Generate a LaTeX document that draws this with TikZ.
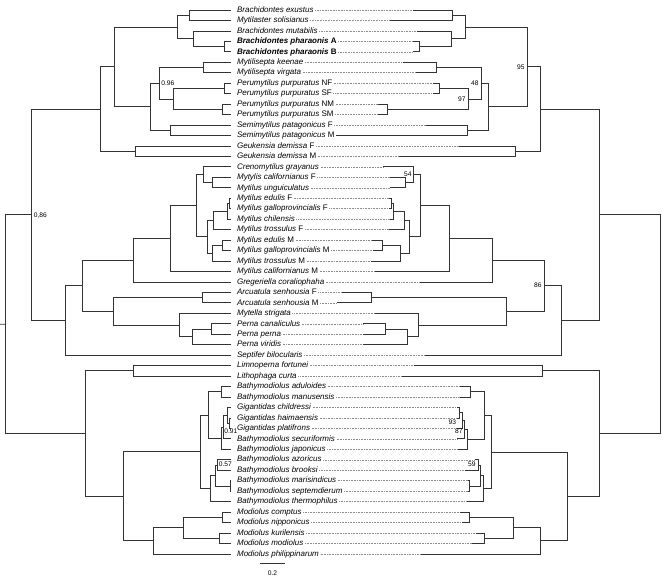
\documentclass[tikz,border=0pt]{standalone}
\usepackage{fontspec}
\setmainfont{Liberation Sans}
\usetikzlibrary{calc}
\newcommand\mkbr[4]{%
  \path let \p1=(#3), \p2=(#4) in coordinate (#1) at ({#2*0.75pt},{0.5*(\y1+\y2)});
  \draw[br] (#1) |- (#3);
  \draw[br] (#1) |- (#4);
}
\tikzset{
  br/.style={draw=black!80, line width=0.6pt},
  lab/.style={anchor=west, inner sep=1pt, font=\fontsize{6}{7}\selectfont\itshape, text height=4.5pt, text depth=1.2pt},
  dotline/.style={draw=black!45, line width=0.4pt, dash pattern=on 0.4pt off 0.8pt},
  bootlab/.style={inner sep=0.5pt, font=\fontsize{5}{6}\selectfont, text height=3.6pt, text depth=0pt},
}
\begin{document}
\begin{tikzpicture}[x=0.75pt,y=-0.75pt]
\useasboundingbox (0,0) rectangle (668,581);
\foreach \i/\rx/\txt in {
 1/413/{Brachidontes exustus},
 2/390/{Mytilaster solisianus},
 3/417/{Brachidontes mutabilis},
 4/413/{\bfseries Brachidontes pharaonis \upshape A},
 5/413/{\bfseries Brachidontes pharaonis \upshape B},
 6/403/{Mytilisepta keenae},
 7/416/{Mytilisepta virgata},
 8/433/{Perumytilus purpuratus \upshape NF},
 9/433/{Perumytilus purpuratus \upshape SF},
 10/378/{Perumytilus purpuratus \upshape NM},
 11/378/{Perumytilus purpuratus \upshape SM},
 12/426/{Semimytilus patagonicus \upshape F},
 13/336/{Semimytilus patagonicus \upshape M},
 14/459/{Geukensia demissa \upshape F},
 15/399/{Geukensia demissa \upshape M},
 16/383/{Crenomytilus grayanus},
 17/390/{Mytylis californianus \upshape F},
 18/390/{Mytilus unguiculatus},
 19/389/{Mytilus edulis \upshape F},
 20/389/{Mytilus galloprovincialis \upshape F},
 21/390/{Mytilus chilensis},
 22/389/{Mytilus trossulus \upshape F},
 23/372/{Mytilus edulis \upshape M},
 24/373/{Mytilus galloprovincialis \upshape M},
 25/371/{Mytilus trossulus \upshape M},
 26/375/{Mytilus californianus \upshape M},
 27/420/{Gregeriella coraliophaha},
 28/342/{Arcuatula senhousia \upshape F},
 29/337/{Arcuatula senhousia \upshape M},
 30/375/{Mytella strigata},
 31/363/{Perna canaliculus},
 32/363/{Perna perna},
 33/363/{Perna viridis},
 34/425/{Septifer bilocularis},
 35/414/{Limnoperna fortunei},
 36/402/{Lithophaga curta},
 37/460/{Bathymodiolus aduloides},
 38/460/{Bathymodiolus manusensis},
 39/457/{Gigantidas childressi},
 40/457/{Gigantidas haimaensis},
 41/457/{Gigantidas platifrons},
 42/457/{Bathymodiolus securiformis},
 43/458/{Bathymodiolus japonicus},
 44/475/{Bathymodiolus azoricus},
 45/465/{Bathymodiolus brooksi},
 46/468/{Bathymodiolus marisindicus},
 47/468/{Bathymodiolus septemdierum},
 48/467/{Bathymodiolus thermophilus},
 49/460/{Modiolus comptus},
 50/462/{Modiolus nipponicus},
 51/476/{Modiolus kurilensis},
 52/472/{Modiolus modiolus},
 53/421/{Modiolus philippinarum}}{
  \pgfmathsetmacro\yy{10+(\i-1)*10.46}
  \coordinate (L\i) at (231,\yy);
  \coordinate (R\i) at (\rx,\yy);
  \node[lab] (t\i) at (235.5,\yy) {\txt};
  \draw[dotline] (t\i.east) -- (R\i);
}
% ---------- left tree ----------
\mkbr{a1}{189}{L1}{L2}
\mkbr{a2}{224}{L4}{L5}
\mkbr{a3}{193}{L3}{a2}
\mkbr{a4}{177}{a1}{a3}
\mkbr{b1}{203}{L6}{L7}
\mkbr{b2}{224}{L8}{L9}
\mkbr{b3}{222}{L10}{L11}
\mkbr{b4}{173}{b2}{b3}
\mkbr{b5}{159}{b1}{b4}
\mkbr{b6}{170}{L12}{L13}
\mkbr{b7}{150}{b5}{b6}
\mkbr{a5}{114}{a4}{b7}
\mkbr{g1}{135}{L14}{L15}
\mkbr{a6}{100}{a5}{g1}
\mkbr{m1}{212}{L17}{L18}
\mkbr{m2}{203}{L16}{m1}
\mkbr{m3}{229.5}{L19}{L20}
\mkbr{m4}{227}{m3}{L21}
\mkbr{m5}{213}{m4}{L22}
\mkbr{m6}{222}{L23}{L24}
\mkbr{m7}{212}{m6}{L25}
\mkbr{m8}{207}{m5}{m7}
\mkbr{m9}{196}{m2}{m8}
\mkbr{m10}{170}{m9}{L26}
\mkbr{m11}{133}{m10}{L27}
\mkbr{p1}{202}{L28}{L29}
\mkbr{p2}{211}{L31}{L32}
\mkbr{p3}{192}{p2}{L33}
\mkbr{p4}{179}{L30}{p3}
\mkbr{p5}{113}{p1}{p4}
\mkbr{p6}{82}{m11}{p5}
\mkbr{p7}{65}{p6}{L34}
\mkbr{c1}{31}{a6}{p7}
\mkbr{d1}{133}{L35}{L36}
\mkbr{e1}{221}{L37}{L38}
\mkbr{e2}{229}{L40}{L41}
\mkbr{e3}{227}{L39}{e2}
\mkbr{e4}{223}{e3}{L42}
\mkbr{e5}{221}{e4}{L43}
\mkbr{e6}{208}{e1}{e5}
\mkbr{f1}{217}{L44}{L45}
\mkbr{f2}{230}{L46}{L47}
\mkbr{f3}{215}{f1}{f2}
\mkbr{f4}{210}{f3}{L48}
\mkbr{e7}{200}{e6}{f4}
\mkbr{h1}{222}{L49}{L50}
\mkbr{h2}{219}{L51}{L52}
\mkbr{h3}{183}{h1}{h2}
\mkbr{h4}{153}{h3}{L53}
\mkbr{e8}{123}{e7}{h4}
\mkbr{d2}{85}{d1}{e8}
\mkbr{lroot}{5}{c1}{d2}
\coordinate (lstub) at (0,324.2);
\draw[br] (lstub) -- (lroot);
\node[bootlab, anchor=west] (s096) at (160.5,83.2) {0.96};
\node[bootlab, anchor=west] (s086) at (33,214.8) {0,86};
\node[bootlab, anchor=west] (s091) at (223.5,431.5) {0.91};
\node[bootlab, anchor=west] (s057) at (218,464.5) {0.57};
% ---------- right tree ----------
\mkbr{ra1}{452}{R1}{R2}
\mkbr{ra2}{419}{R4}{R5}
\mkbr{ra3}{451}{R3}{ra2}
\mkbr{ra4}{465}{ra1}{ra3}
\mkbr{rb1}{436}{R6}{R7}
\mkbr{rb2}{439}{R8}{R9}
\mkbr{rb3}{387}{R10}{R11}
\mkbr{rb4}{468}{rb2}{rb3}
\mkbr{rb5}{481}{rb1}{rb4}
\mkbr{rb6}{467}{R12}{R13}
\mkbr{rb7}{488}{rb5}{rb6}
\mkbr{ra5}{527}{ra4}{rb7}
\mkbr{rg1}{515}{R14}{R15}
\mkbr{ra6}{540}{ra5}{rg1}
\mkbr{rm1}{405}{R17}{R18}
\mkbr{rm2}{413}{R16}{rm1}
\mkbr{rm3}{391}{R19}{R20}
\mkbr{rm4}{393}{rm3}{R21}
\mkbr{rm5}{404}{rm4}{R22}
\mkbr{rm6}{382}{R23}{R24}
\mkbr{rm7}{400}{rm6}{R25}
\mkbr{rm8}{409}{rm5}{rm7}
\mkbr{rm9}{420}{rm2}{rm8}
\mkbr{rm10}{449}{rm9}{R26}
\mkbr{rm11}{492}{rm10}{R27}
\mkbr{rp1}{371}{R28}{R29}
\mkbr{rp2}{385}{R31}{R32}
\mkbr{rp3}{407}{rp2}{R33}
\mkbr{rp4}{418}{R30}{rp3}
\mkbr{rp5}{506}{rp1}{rp4}
\mkbr{rp6}{544}{rm11}{rp5}
\mkbr{rp7}{561}{rp6}{R34}
\mkbr{rc1}{599}{ra6}{rp7}
\mkbr{rd1}{542}{R35}{R36}
\mkbr{re1}{470}{R37}{R38}
\mkbr{re2}{459}{R39}{R40}
\mkbr{re3}{462}{re2}{R41}
\mkbr{re4}{464}{re3}{R42}
\mkbr{re5}{467}{re4}{R43}
\mkbr{re6}{484}{re1}{re5}
\mkbr{rf1}{478}{R44}{R45}
\mkbr{rf2}{469}{R46}{R47}
\mkbr{rf3}{480}{rf1}{rf2}
\mkbr{rf4}{483}{rf3}{R48}
\mkbr{re7}{491}{re6}{rf4}
\mkbr{rh1}{469}{R49}{R50}
\mkbr{rh2}{484}{R51}{R52}
\mkbr{rh3}{513}{rh1}{rh2}
\mkbr{rh4}{540}{rh3}{R53}
\mkbr{re8}{567}{re7}{rh4}
\mkbr{rd2}{599}{rd1}{re8}
\mkbr{rroot}{660}{rc1}{rd2}
\node[bootlab, anchor=east] (s95) at (525.5,67) {95};
\node[bootlab, anchor=east] (s48) at (479.5,83) {48};
\node[bootlab, anchor=east] (s97) at (466.5,99) {97};
\node[bootlab, anchor=east] (s54) at (412.5,174.5) {54};
\node[bootlab, anchor=east] (s86) at (542.5,285.5) {86};
\node[bootlab, anchor=east] (s93) at (457,422.5) {93};
\node[bootlab, anchor=east] (s87) at (463.5,431.5) {87};
\node[bootlab, anchor=east] (s59) at (476.5,464.5) {59};
% ---------- scale bar ----------
\coordinate (sbl) at (260,563);
\coordinate (sbr) at (285,563);
\draw[br] (sbl) -- (sbr);
\node[bootlab] (sbt) at (272.5,573) {0.2};
\end{tikzpicture}
\end{document}
